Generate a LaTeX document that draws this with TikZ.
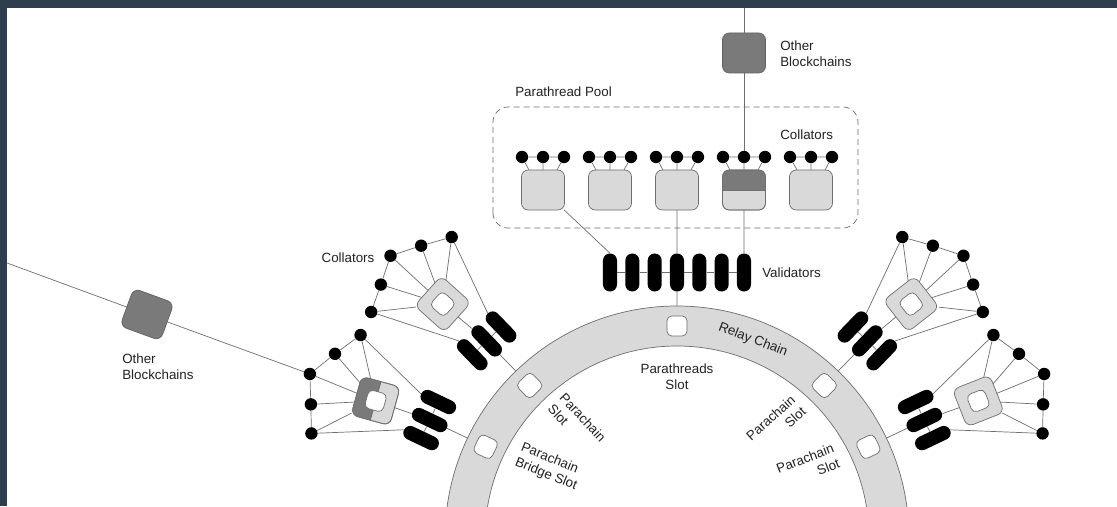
\documentclass[tikz,border=0pt]{standalone}
\usepackage{fontspec}
\setmainfont{Liberation Sans}
\usetikzlibrary{positioning}
\definecolor{cadre}{RGB}{46,62,78}
\definecolor{grisclair}{RGB}{217,217,217}
\definecolor{grisfonce}{RGB}{122,122,122}
\definecolor{trait}{RGB}{110,110,110}
\definecolor{texte}{RGB}{34,34,34}

\begin{document}
\begin{tikzpicture}[
                x=0.025cm, y=0.025cm,
                font=\fontsize{9.5}{11.5}\selectfont, text=texte,
                lien/.style={draw=trait, line width=0.5pt},
                collateur/.style={circle, fill=black, inner sep=0pt, minimum size=0.31cm},
                validateur/.style={fill=black, rounded corners=0.175cm, inner sep=0pt, minimum width=0.35cm, minimum height=0.95cm},
                bloc/.style={draw=trait, line width=0.5pt, fill=grisclair, rounded corners=0.17cm, inner sep=0pt, outer sep=0pt, minimum width=1.075cm, minimum height=1cm},
                chaine/.style={bloc, minimum width=1cm},
                creux/.style={draw=trait, line width=0.5pt, fill=white, rounded corners=0.12cm, inner sep=0pt, minimum size=0.47cm},
                trou/.style={creux, minimum size=0.5cm},
                externe/.style={bloc, fill=grisfonce, draw=grisfonce!80!black},
                etiquette/.style={inner sep=0pt, align=left}
            ]

            \useasboundingbox (-677,32) rectangle (440,538);
            \fill[white] (-677,32) rectangle (440,538);

            % Anneau de la relay chain
            \filldraw[fill=grisclair, draw=trait, line width=0.5pt, even odd rule] (0,0) circle (232) (0,0) circle (192);
            \node[trou] (fente) at (90:212) {};
            \coordinate (bord) at (90:232);
            \node[rotate=-21] (lrelay) at (69:212) {Relay Chain};
            \node[align=center] (lthread) at (0,161) {Parathreads\\Slot};
            \node[align=left, rotate=-47] (lpara1) at (-100,115) {Parachain\\Slot};
            \node[align=left, rotate=-22] (lpara2) at (-128,71) {Parachain\\Bridge Slot};
            \node[align=right, rotate=42] (lpara3) at (99,114) {Parachain\\Slot};
            \node[align=right, rotate=21] (lpara4) at (131,72) {Parachain\\Slot};

            % Validateurs
            \foreach \i in {1,...,7}
                \node[validateur] (v\i) at ({-67+22.333*(\i-1)}, 265.5) {};
            \foreach \i [count=\j from 2] in {1,...,6}
                \draw[lien] (v\i) -- (v\j);
            \draw[lien] (v4) -- (bord);
            \node[etiquette, anchor=west] (lval) at (85,265) {Validators};

            % Parathread pool
            \draw[trait, line width=0.5pt, dash pattern=on 0.15cm off 0.1cm, rounded corners=0.375cm] (-184,310) rectangle (181,431);
            \node[etiquette, anchor=west] (lpool) at (-162,446) {Parathread Pool};
            \node[etiquette, anchor=west] (lcol) at (103,403) {Collators};
            \foreach \g in {1,...,5} {
                \node[bloc] (pb\g) at ({-134+67*(\g-1)}, 348) {};
                \node[collateur] (pd\g-a) at ({-155+67*(\g-1)}, 381) {};
                \node[collateur] (pd\g-b) at ({-134+67*(\g-1)}, 381) {};
                \node[collateur] (pd\g-c) at ({-113+67*(\g-1)}, 381) {};
                \draw[lien] (pd\g-a) -- (pd\g-b) -- (pd\g-c) (pd\g-a) -- (pb\g.125)
                    (pd\g-b) -- (pb\g) (pd\g-c) -- (pb\g.55);
            }
            % bloc a moitie fonce
            \begin{scope}
                \clip (pb4.west) -- (pb4.north west) -- (pb4.north east) -- (pb4.east) -- cycle;
                \fill[grisfonce, rounded corners=0.17cm] (pb4.south west) -- (pb4.north west) -- (pb4.north east) -- (pb4.south east) -- cycle;
            \end{scope}
            \draw[lien] (pb4.west) -- (pb4.east);
            \draw[lien, rounded corners=0.17cm] (pb4.south west) -- (pb4.north west) -- (pb4.north east) -- (pb4.south east) -- cycle;
            \draw[lien] (pb1) -- (v1.north);
            \draw[lien] (pb3) -- (v4);
            \draw[lien] (pb4) -- (v7);

            % Autres blockchains (haut)
            \node[externe] (ob1) at (67,485) {};
            \coordinate (haut) at (67,530);
            \draw[lien] (haut) -- (ob1) -- (pd4-b);
            \node[etiquette, anchor=west] (lob1) at (103,484) {Other\\Blockchains};

            % Parachains
            \foreach \ang/\s/\n/\tourne in {134/1/1/4, 154.5/1/2/10, 46/-1/3/-8, 25.5/-1/4/-4} {
                \begin{scope}[rotate=\ang-90, every node/.append style={transform shape}]
                    \node[trou] (g\n-s) at (0,212) {};
                    \coordinate (g\n-r) at (0,232);
                    \node[validateur] (g\n-p1) at ({20*\s},274) {};
                    \node[validateur] (g\n-p2) at (0,274) {};
                    \node[validateur] (g\n-p3) at ({-20*\s},274) {};
                    \node[chaine, rotate=\tourne] (g\n-b) at ({-6*\s},331) {};
                    \ifnum\n=2
                        \begin{scope}
                            \clip (g2-b.west) -- (g2-b.north west) -- (g2-b.north east) -- (g2-b.east) -- cycle;
                            \fill[grisfonce, rounded corners=0.17cm] (g2-b.south west) -- (g2-b.north west) -- (g2-b.north east) -- (g2-b.south east) -- cycle;
                        \end{scope}
                        \draw[lien] (g2-b.west) -- (g2-b.east);
                        \draw[lien, rounded corners=0.17cm] (g2-b.south west) -- (g2-b.north west) -- (g2-b.north east) -- (g2-b.south east) -- cycle;
                    \fi
                    \node[creux, rotate=\tourne] (g\n-c) at (g\n-b) {};
                    \node[collateur] (g\n-d1) at ({47*\s},373) {};
                    \node[collateur] (g\n-d2) at ({19*\s},388) {};
                    \node[collateur] (g\n-d3) at ({-10*\s},402) {};
                    \node[collateur] (g\n-d4) at ({-37*\s},388) {};
                    \node[collateur] (g\n-d5) at ({-63*\s},375) {};
                \end{scope}
                \draw[lien] (g\n-d1) -- (g\n-d2) -- (g\n-d3) -- (g\n-d4) -- (g\n-d5);
                \foreach \k in {1,...,5}
                    \draw[lien] (g\n-d\k) -- (g\n-b);
                \draw[lien] (g\n-d1) -- (g\n-p1.north) (g\n-d5) -- (g\n-p3.north);
                \draw[lien] (g\n-b) -- (g\n-p2) -- (g\n-r) (g\n-p1) -- (g\n-p2) -- (g\n-p3);
            }
            \node (lcol2) at (-329,280) {Collators};

            % Autres blockchains (gauche)
            \node[externe, rotate=-20] (ob2) at (-530,223.5) {};
            \coordinate (gauche) at (-670,275);
            \draw[lien] (gauche) -- (ob2) -- (g2-d3);
            \node[etiquette, anchor=west] (lob2) at (-555,171) {Other\\Blockchains};

            % Cadre
            \fill[cadre] (-677,530) rectangle (440,538);
            \fill[cadre] (-677,32) rectangle (-670,538);
        \end{tikzpicture}
\end{document}
